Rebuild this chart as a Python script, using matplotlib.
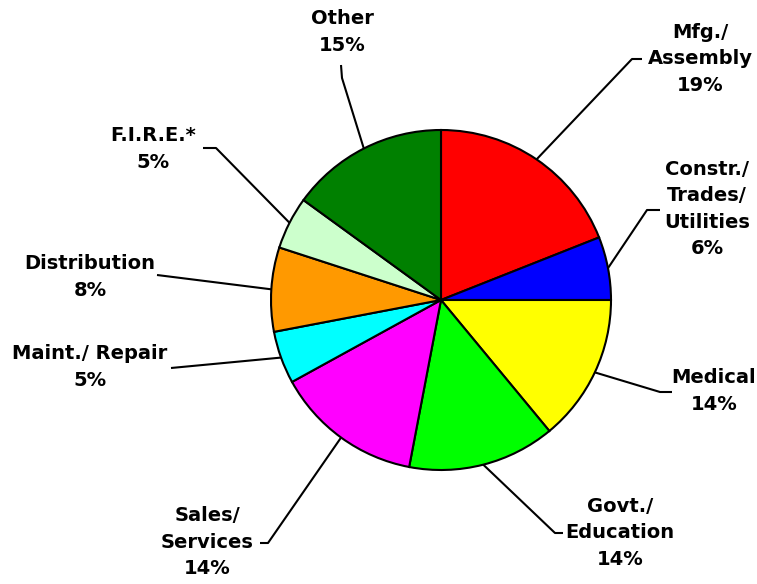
import matplotlib
matplotlib.use("Agg")
import matplotlib.pyplot as plt
import numpy as np

# data
labels = ["Mfg./\nAssembly", "Constr./\nTrades/\nUtilities", "Medical", "Govt./\nEducation",
          "Sales/\nServices", "Maint./ Repair", "Distribution", "F.I.R.E.*", "Other"]
shares = [19, 6, 14, 14, 14, 5, 8, 5, 15]
colors = ["#FF0000", "#0000FF", "#FFFF00", "#00FF00", "#FF00FF",
          "#00FFFF", "#FF9900", "#CCFFCC", "#008000"]

W, H = 757, 584
fig = plt.figure(figsize=(W/100, H/100), dpi=100)
ax = fig.add_axes([0, 0, 1, 1])

cx, cy, R = 441, H-300, 170
wedges, _ = ax.pie(shares, colors=colors, startangle=90, counterclock=False,
                   center=(cx, cy), radius=R,
                   wedgeprops=dict(edgecolor="black", linewidth=1.5))

# label layout in pixel coords (y down): elbow, end of leader, text centre
layout = [
    ((632, 59), (642, 59), (700, 59)),
    ((647, 210), (660, 210), (707, 209)),
    ((660, 392), (672, 392), (714, 391)),
    ((555, 533), (563, 533), (620, 533)),
    ((268, 543), (260, 543), (207, 542)),
    (None, (171, 368), (90, 367)),
    (None, (157, 275), (90, 277)),
    ((216, 148), (203, 148), (153, 149)),
    ((342, 78), (341, 65), (342, 32)),
]

for w, lab, s, (elb, end, tp) in zip(wedges, labels, shares, layout):
    mid = np.deg2rad((w.theta1 + w.theta2) / 2)
    px = [cx + R*np.cos(mid)]
    py = [cy + R*np.sin(mid)]
    if elb is not None:
        px.append(elb[0]); py.append(H - elb[1])
    px.append(end[0]); py.append(H - end[1])
    ax.plot(px, py, color="black", lw=1.5, solid_capstyle="butt")
    ax.text(tp[0], H - tp[1], lab + "\n" + str(s) + "%", ha="center", va="center",
            fontsize=14, fontweight="bold", linespacing=1.5, family="DejaVu Sans")

ax.set_xlim(0, W)
ax.set_ylim(0, H)
ax.set_aspect("equal")
ax.axis("off")

fig.savefig("out.png", dpi=100)
